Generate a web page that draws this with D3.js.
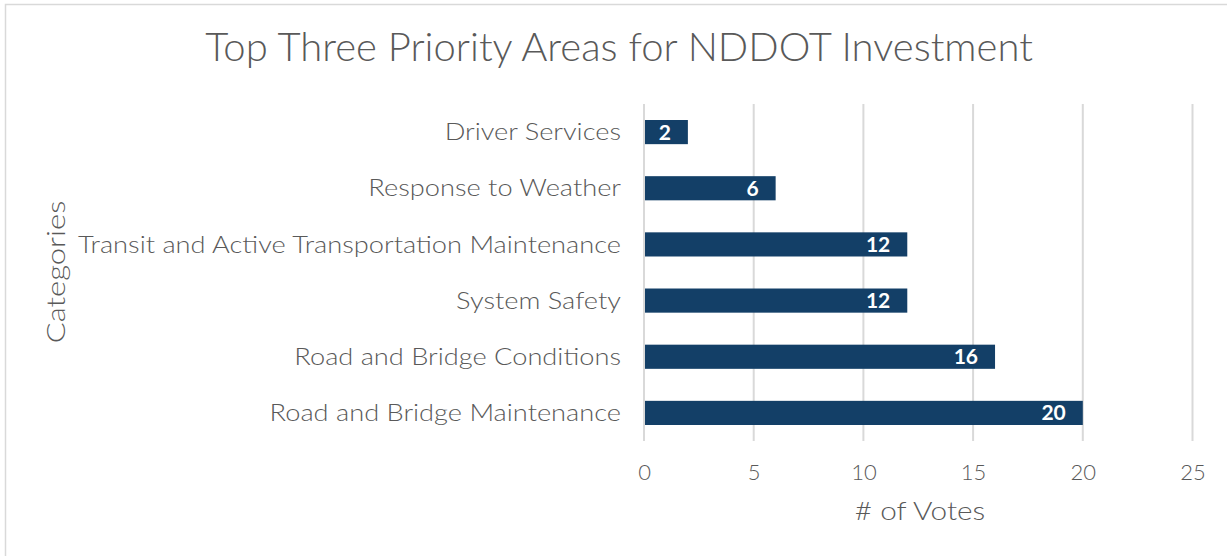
<!DOCTYPE html>
<html><head><meta charset="utf-8">
<script src="https://cdn.jsdelivr.net/npm/d3@7"></script>
<style>body{margin:0;background:#fff;} svg{display:block;}</style>
</head><body>
<svg id="c" width="1227" height="556"></svg>
<script>
const categories = ["Driver Services","Response to Weather","Transit and Active Transportation Maintenance","System Safety","Road and Bridge Conditions","Road and Bridge Maintenance"];
const votes = [2,6,12,12,16,20];
const xTicks = [0,5,10,15,20,25];
const title = "Top Three Priority Areas for NDDOT Investment";
const xTitle = "# of Votes";
const yTitle = "Categories";

const font = "'Lato', 'Open Sans', sans-serif";
const grey = "#595959";
const svg = d3.select("#c");
svg.append("rect").attr("x",5.5).attr("y",4.5).attr("width",1240).attr("height",600)
  .attr("fill","#fff").attr("stroke","#d9d9d9").attr("stroke-width",1.5);

const x = d3.scaleLinear().domain([0,25]).range([644,1192.5]);
const y = d3.scaleBand().domain(categories).range([104,441]).paddingInner(0.57).paddingOuter(0.285);

svg.append("g").selectAll("line").data(xTicks).join("line")
  .attr("x1",d=>x(d)).attr("x2",d=>x(d)).attr("y1",104).attr("y2",441)
  .attr("stroke","#d9d9d9").attr("stroke-width",2);

svg.append("g").selectAll("rect").data(votes).join("rect")
  .attr("x",x(0)+1).attr("y",(d,i)=>y(categories[i]))
  .attr("width",d=>x(d)-x(0)-1).attr("height",y.bandwidth())
  .attr("fill","#133f67");

svg.append("g").selectAll("text").data(votes).join("text")
  .attr("x",d=>x(d)-17).attr("y",(d,i)=>y(categories[i])+y.bandwidth()/2)
  .attr("dy","0.36em").attr("text-anchor","end")
  .attr("fill","#fff").attr("font-weight","bold").attr("font-size",21).attr("font-family",font)
  .text(d=>d);

const xAxis = d3.axisBottom(x).tickValues(xTicks).tickSize(0).tickPadding(0);
const gx = svg.append("g").attr("transform","translate(0,441)").call(xAxis);
gx.select(".domain").remove();
gx.selectAll("text").attr("y",31).attr("dy","0.36em").attr("fill",grey).attr("font-size",22).attr("font-family",font).attr("font-weight",300);

const yAxis = d3.axisLeft(y).tickSize(0).tickPadding(0);
const gy = svg.append("g").attr("transform","translate(621,0)").call(yAxis);
gy.select(".domain").remove();
gy.selectAll("text").attr("x",0).attr("dy","0.36em").attr("fill",grey).attr("font-size",22.5).attr("font-family",font).attr("font-weight",300)
  .attr("transform","scale(1.21,1)");

svg.append("text").attr("x",619).attr("y",47).attr("dy","0.36em").attr("text-anchor","middle")
  .attr("fill",grey).attr("font-size",40).attr("font-family",font).attr("font-weight",300).text(title);
svg.append("text").attr("transform","translate(920,511) scale(1.19,1)").attr("dy","0.36em").attr("text-anchor","middle")
  .attr("fill",grey).attr("font-size",25).attr("font-family",font).attr("font-weight",300).text(xTitle);
svg.append("text").attr("transform","translate(56,272) rotate(-90) scale(1.24,1)").attr("dy","0.36em").attr("text-anchor","middle")
  .attr("fill",grey).attr("font-size",25).attr("font-family",font).attr("font-weight",300).text(yTitle);
</script>
</body></html>
